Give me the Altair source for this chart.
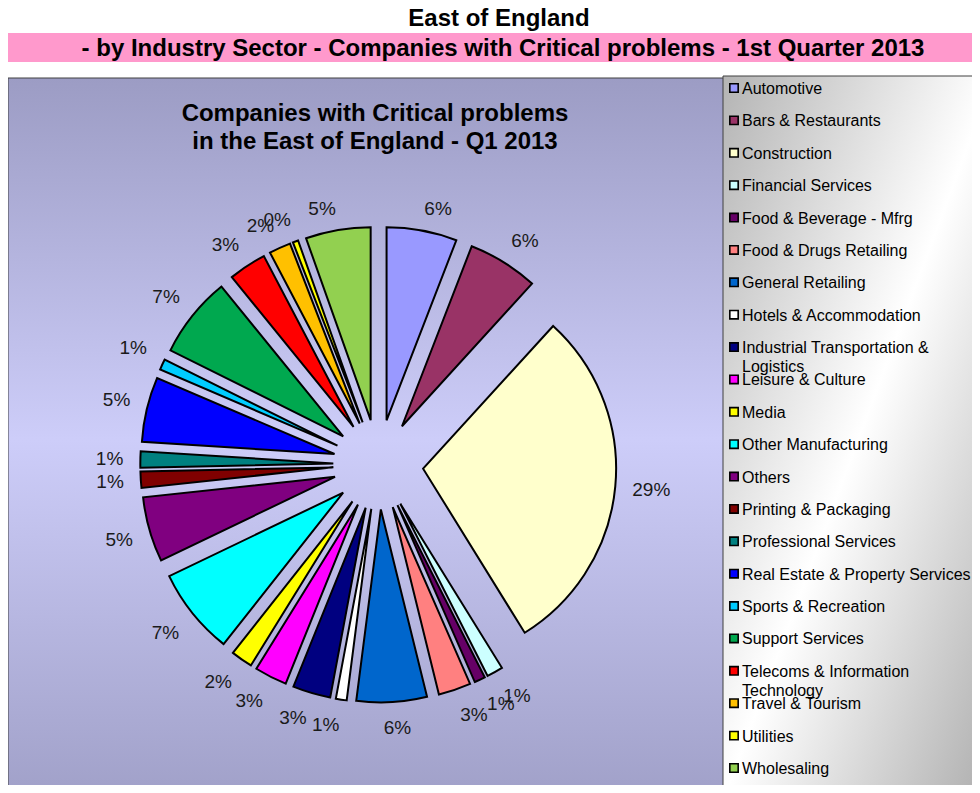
import altair as alt
import pandas as pd

# ---------------- data ----------------
sectors = [
    "Automotive", "Bars & Restaurants", "Construction", "Financial Services",
    "Food & Beverage - Mfrg", "Food & Drugs Retailing", "General Retailing",
    "Hotels & Accommodation", "Industrial Transportation & Logistics",
    "Leisure & Culture", "Media", "Other Manufacturing", "Others",
    "Printing & Packaging", "Professional Services",
    "Real Estate & Property Services", "Sports & Recreation", "Support Services",
    "Telecoms & Information Technology", "Travel & Tourism", "Utilities",
    "Wholesaling",
]
companies = [13, 13, 65, 3, 2, 6, 13, 2, 7, 6, 4, 16, 12, 3, 3, 12, 2, 15, 7, 4, 1, 12]
legend_text = [
    "Automotive", "Bars & Restaurants", "Construction", "Financial Services",
    "Food & Beverage - Mfrg", "Food & Drugs Retailing", "General Retailing",
    "Hotels & Accommodation", "Industrial Transportation &\nLogistics",
    "Leisure & Culture", "Media", "Other Manufacturing", "Others",
    "Printing & Packaging", "Professional Services",
    "Real Estate & Property Services", "Sports & Recreation", "Support Services",
    "Telecoms & Information\nTechnology", "Travel & Tourism", "Utilities",
    "Wholesaling",
]
colors = [
    "#9999FF", "#993366", "#FFFFCC", "#CCFFFF", "#660066", "#FF8080", "#0066CC",
    "#FFFFFF", "#000080", "#FF00FF", "#FFFF00", "#00FFFF", "#800080", "#800000",
    "#008080", "#0000FF", "#00CCFF", "#00A84F", "#FF0000", "#FFC000", "#FFFF00",
    "#92D050",
]

main_title = "East of England"
sub_title = "- by Industry Sector - Companies with Critical problems - 1st Quarter 2013"
chart_title = "Companies with Critical problems\nin the East of England - Q1 2013"

# ---------------- layout constants ----------------
W, H = 964, 777
FONT = "Liberation Sans"
CX, CY = 370.3, 456.5      # pie centre (view px)
EXPLODE = 45               # slice explosion distance
R = 193                    # pie radius
LABEL_R = EXPLODE + R + 17

df = pd.DataFrame({
    "sector": sectors,
    "companies": companies,
    "order": list(range(len(sectors))),
    "legend": legend_text,
})
one = pd.DataFrame({"k": [0]})

color_scale = alt.Scale(domain=sectors, range=colors)

# ---------------- backgrounds ----------------
plot_bg = alt.Chart(one).mark_rect(
    fill=alt.LinearGradient(
        gradient="linear", x1=0, y1=0, x2=0, y2=1,
        stops=[alt.GradientStop(color="#9C9CC4", offset=0),
               alt.GradientStop(color="#CDCDF9", offset=0.5),
               alt.GradientStop(color="#A0A0C8", offset=1)]),
    stroke="#404040", strokeWidth=1,
).encode(x=alt.value(0), x2=alt.value(716), y=alt.value(70), y2=alt.value(H + 16))

legend_bg = alt.Chart(one).mark_rect(
    fill=alt.LinearGradient(
        gradient="linear", x1=0, y1=0, x2=1, y2=1,
        stops=[alt.GradientStop(color="#B4B4B4", offset=0),
               alt.GradientStop(color="#FFFFFF", offset=0.5),
               alt.GradientStop(color="#ACACAC", offset=1)]),
    stroke="#404040", strokeWidth=1,
).encode(x=alt.value(715), x2=alt.value(W + 22), y=alt.value(68), y2=alt.value(H + 16))

band = alt.Chart(one).mark_rect(fill="#FF99CC").encode(
    x=alt.value(0), x2=alt.value(W), y=alt.value(25), y2=alt.value(54))

t1 = alt.Chart(one).mark_text(
    text=main_title, font=FONT, fontSize=24, fontWeight="bold", color="#000",
    align="center", baseline="alphabetic",
).encode(x=alt.value(491), y=alt.value(18))

t2 = alt.Chart(one).mark_text(
    text=sub_title, font=FONT, fontSize=24, fontWeight="bold", color="#000",
    align="center", baseline="alphabetic",
).encode(x=alt.value(495), y=alt.value(47.5))

t3 = alt.Chart(one).mark_text(
    text=chart_title.split("\n"), font=FONT, fontSize=24, fontWeight="bold",
    color="#000", align="center", baseline="alphabetic", lineHeight=28,
).encode(x=alt.value(367), y=alt.value(112.5))

# ---------------- pie ----------------
pie_base = alt.Chart(df).transform_joinaggregate(
    total="sum(companies)"
).transform_window(
    cum="sum(companies)", sort=[alt.SortField("order")], frame=[None, 0]
).transform_calculate(
    a1="2*PI*datum.cum/datum.total",
    a0="2*PI*(datum.cum-datum.companies)/datum.total",
).transform_calculate(
    mid="(datum.a0+datum.a1)/2",
    pct="format(datum.companies/datum.total, '.0%')",
).transform_calculate(
    lr=f"{LABEL_R} - 5*pow(max(0, cos(datum.mid)), 4)",
).transform_calculate(
    px=f"{CX} + {EXPLODE}*sin(datum.mid)",
    py=f"{CY} - {EXPLODE}*cos(datum.mid)",
    lx=(f"{CX} + datum.lr*sin(datum.mid)"
        " + (10.6*(length(datum.pct)-1)+16.9)/2*clamp(6*sin(datum.mid),-1,1)"),
    ly=(f"{CY} - datum.lr*cos(datum.mid)"
        " - 9*clamp(2.5*cos(datum.mid),-1,1)"),
)

slices = pie_base.mark_arc(
    outerRadius=R, stroke="#000000", strokeWidth=2, strokeJoin="miter"
).encode(
    theta=alt.Theta("a0:Q", scale=None),
    theta2=alt.Theta2("a1:Q"),
    x=alt.X("px:Q", scale=None),
    y=alt.Y("py:Q", scale=None),
    color=alt.Color("sector:N", scale=color_scale, legend=None),
    order=alt.Order("order:Q"),
)

labels = pie_base.mark_text(
    font=FONT, fontSize=19, color="#1a1a1a", align="center", baseline="middle"
).encode(
    x=alt.X("lx:Q", scale=None),
    y=alt.Y("ly:Q", scale=None),
    text="pct:N",
)

# ---------------- legend ----------------
leg_y = alt.Y("sector:N", sort=sectors, axis=None,
              scale=alt.Scale(domain=sectors, range=[80, 760], padding=0))

leg_sym = alt.Chart(df).mark_square(
    size=70, stroke="#000000", strokeWidth=1.6, opacity=1, filled=True
).encode(
    x=alt.value(726), y=leg_y,
    color=alt.Color("sector:N", scale=color_scale, legend=None),
)

leg_txt = alt.Chart(df).mark_text(
    font=FONT, fontSize=16, color="#000", align="left", baseline="alphabetic",
    dy=6, lineBreak="\n", lineHeight=19,
).encode(x=alt.value(734), y=leg_y, text="legend:N")

chart = alt.layer(
    plot_bg, legend_bg, band, t1, t2, t3, slices, labels, leg_sym, leg_txt
).resolve_scale(
    y="independent", x="independent"
).properties(
    width=W, height=H, padding=0, autosize="none", background="white"
).configure_view(strokeWidth=0)

chart.save("out.html", embed_options={"renderer": "svg", "actions": False})
